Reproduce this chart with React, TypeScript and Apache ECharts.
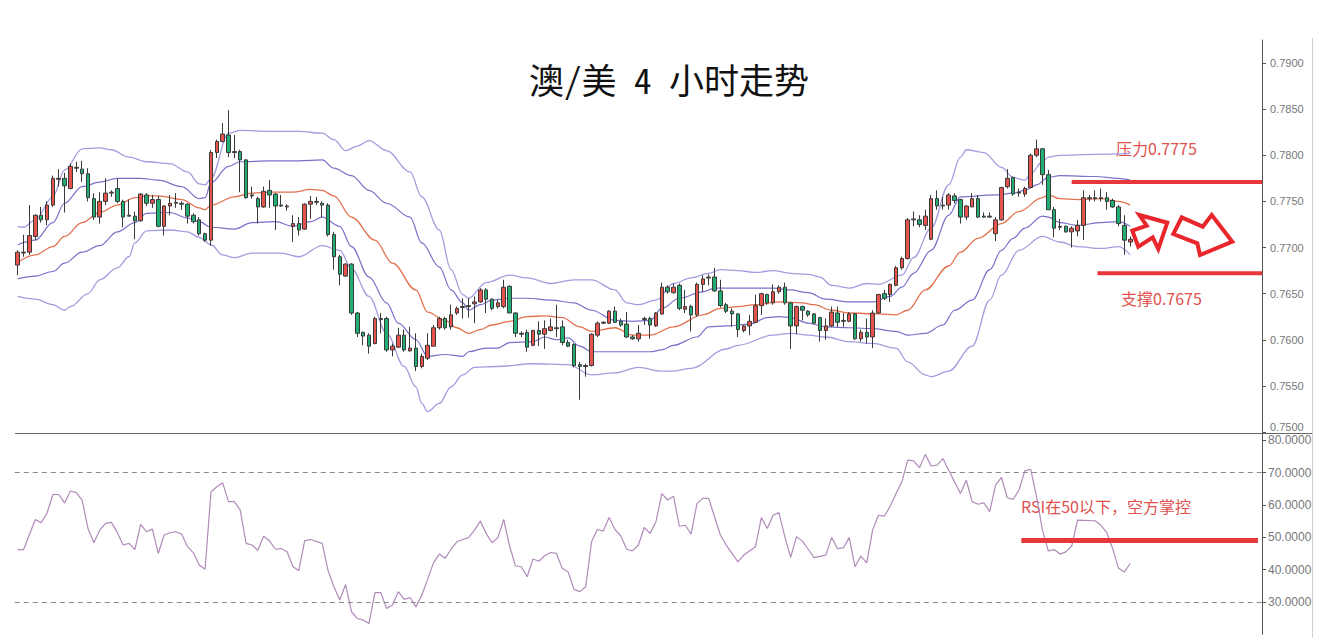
import React, { useEffect, useRef } from "react";
import * as echarts from "echarts";

// ---------- DATA ----------
const SLOT_COUNT = 213; // 191 bars + empty room on the right
const slots: string[] = Array.from({ length: SLOT_COUNT }, (_, i) => `K${i + 1}`);

// AUD/USD 4H bars: [open, close, low, high]
const candles: number[][] = [
  // 0
  [0.7681, 0.7695, 0.767, 0.7697], [0.7694, 0.7695, 0.769, 0.7714], [0.7695, 0.7713, 0.7692, 0.7746], [0.7712, 0.7735, 0.7708, 0.7736],
  [0.7735, 0.773, 0.7727, 0.7744], [0.773, 0.7746, 0.7724, 0.775], [0.7746, 0.7775, 0.7744, 0.7778], [0.7774, 0.7775, 0.7766, 0.7785],
  [0.7775, 0.7767, 0.7738, 0.7781], [0.7764, 0.7788, 0.7763, 0.7791],
  // 10
  [0.7786, 0.7787, 0.7782, 0.7793], [0.7785, 0.778, 0.7771, 0.7794], [0.778, 0.7754, 0.775, 0.7786], [0.7753, 0.7733, 0.773, 0.7759],
  [0.7733, 0.775, 0.7726, 0.776], [0.775, 0.7759, 0.7746, 0.7775], [0.7759, 0.776, 0.7755, 0.7762], [0.7764, 0.775, 0.7748, 0.7775],
  [0.775, 0.7733, 0.7722, 0.7752], [0.7735, 0.7734, 0.7734, 0.7752],
  // 20
  [0.7734, 0.7729, 0.7709, 0.7739], [0.7729, 0.7758, 0.7728, 0.7759], [0.7757, 0.7748, 0.7745, 0.7759], [0.7748, 0.7752, 0.7743, 0.7757],
  [0.7752, 0.7723, 0.7722, 0.7756], [0.7723, 0.7745, 0.7713, 0.7746], [0.7745, 0.7748, 0.7735, 0.7757], [0.7748, 0.7749, 0.7743, 0.7759],
  [0.7748, 0.7747, 0.7741, 0.775], [0.7747, 0.7734, 0.7726, 0.7748],
  // 30
  [0.7735, 0.7728, 0.7726, 0.7737], [0.773, 0.7715, 0.7713, 0.7733], [0.7715, 0.7708, 0.7706, 0.7716], [0.7708, 0.7803, 0.7702, 0.7806],
  [0.7803, 0.7815, 0.7797, 0.7817], [0.7815, 0.7823, 0.7814, 0.7835], [0.7822, 0.7803, 0.7798, 0.7849], [0.7804, 0.7803, 0.7797, 0.7822],
  [0.7804, 0.7795, 0.776, 0.7806], [0.7795, 0.7754, 0.7753, 0.7796],
  // 40
  [0.7757, 0.7756, 0.7753, 0.7766], [0.7753, 0.7744, 0.7726, 0.7755], [0.7744, 0.7761, 0.7743, 0.7766], [0.7762, 0.7757, 0.7743, 0.7773],
  [0.7758, 0.7745, 0.7719, 0.7759], [0.7746, 0.7745, 0.7744, 0.7757], [0.7744, 0.7745, 0.774, 0.7747], [0.7723, 0.7726, 0.7706, 0.7735],
  [0.7726, 0.7719, 0.7713, 0.7733], [0.772, 0.7747, 0.7719, 0.7748],
  // 50
  [0.7747, 0.775, 0.7731, 0.7756], [0.775, 0.7749, 0.7746, 0.7755], [0.7748, 0.7746, 0.7733, 0.775], [0.7746, 0.7714, 0.7712, 0.7748],
  [0.7714, 0.769, 0.7676, 0.7717], [0.769, 0.7671, 0.7659, 0.7692], [0.7669, 0.7682, 0.7668, 0.7683], [0.7682, 0.7629, 0.7627, 0.7683],
  [0.7629, 0.7607, 0.7603, 0.763], [0.7608, 0.7604, 0.7594, 0.7609],
  // 60
  [0.7605, 0.7593, 0.7585, 0.7607], [0.7596, 0.7623, 0.7595, 0.7625], [0.7623, 0.7622, 0.7607, 0.7629], [0.7623, 0.7589, 0.7587, 0.7625],
  [0.7589, 0.7593, 0.7582, 0.7596], [0.7592, 0.7605, 0.7591, 0.7613], [0.7605, 0.7589, 0.7587, 0.7611], [0.7588, 0.7591, 0.7587, 0.7614],
  [0.7591, 0.7571, 0.7566, 0.7607], [0.7571, 0.7582, 0.7569, 0.7585],
  // 70
  [0.758, 0.7594, 0.7578, 0.7607], [0.7593, 0.7613, 0.7593, 0.7616], [0.7613, 0.7623, 0.7611, 0.7625], [0.7623, 0.7613, 0.7611, 0.7625],
  [0.7614, 0.7627, 0.7611, 0.7638], [0.7629, 0.7634, 0.7627, 0.7636], [0.7635, 0.7636, 0.7623, 0.7645], [0.7636, 0.7637, 0.7624, 0.7645],
  [0.7639, 0.7641, 0.7618, 0.7647], [0.7641, 0.7654, 0.764, 0.7656],
  // 80
  [0.7654, 0.7644, 0.7629, 0.7656], [0.7644, 0.7634, 0.7632, 0.7645], [0.7636, 0.764, 0.7634, 0.7643], [0.7636, 0.7657, 0.7634, 0.7665],
  [0.7658, 0.7629, 0.7629, 0.7659], [0.7629, 0.7607, 0.7603, 0.763], [0.7607, 0.7606, 0.7603, 0.7609], [0.7608, 0.7592, 0.7587, 0.7611],
  [0.7594, 0.761, 0.7593, 0.7611], [0.761, 0.7606, 0.7593, 0.762],
  // 90
  [0.7606, 0.7612, 0.759, 0.7621], [0.761, 0.7614, 0.7609, 0.7623], [0.7613, 0.7612, 0.7603, 0.7638], [0.7614, 0.7597, 0.7594, 0.7621],
  [0.7597, 0.7593, 0.7592, 0.76], [0.7595, 0.7572, 0.757, 0.7596], [0.7573, 0.7571, 0.7535, 0.7576], [0.7572, 0.7571, 0.756, 0.7574],
  [0.7572, 0.7606, 0.7571, 0.7607], [0.7605, 0.7618, 0.7603, 0.762],
  // 100
  [0.7618, 0.7619, 0.7617, 0.762], [0.7618, 0.7631, 0.7617, 0.7632], [0.7631, 0.7619, 0.7618, 0.7636], [0.762, 0.7616, 0.7614, 0.7623],
  [0.7617, 0.7603, 0.7602, 0.763], [0.7603, 0.7601, 0.76, 0.7605], [0.7601, 0.7607, 0.7598, 0.7616], [0.7623, 0.7622, 0.7616, 0.7625],
  [0.7623, 0.7616, 0.7601, 0.7625], [0.7615, 0.7629, 0.7614, 0.763],
  // 110
  [0.7628, 0.7657, 0.7627, 0.7662], [0.7657, 0.7652, 0.765, 0.7659], [0.7651, 0.7657, 0.765, 0.7661], [0.7659, 0.7634, 0.7632, 0.7661],
  [0.7633, 0.7636, 0.7629, 0.7654], [0.7636, 0.7627, 0.7609, 0.7638], [0.7627, 0.766, 0.7625, 0.7662], [0.766, 0.7666, 0.7652, 0.767],
  [0.7668, 0.7667, 0.7659, 0.7671], [0.7668, 0.7653, 0.7652, 0.7678],
  // 120
  [0.7653, 0.7637, 0.7635, 0.7665], [0.7638, 0.7631, 0.7629, 0.764], [0.7631, 0.7628, 0.7614, 0.7634], [0.7628, 0.7611, 0.7603, 0.7629],
  [0.761, 0.7615, 0.7608, 0.7616], [0.7615, 0.762, 0.7605, 0.7627], [0.7619, 0.7637, 0.7618, 0.7649], [0.7637, 0.765, 0.7627, 0.7651],
  [0.7649, 0.764, 0.7638, 0.765], [0.764, 0.7652, 0.7638, 0.766],
  // 130
  [0.7652, 0.7657, 0.765, 0.7659], [0.7657, 0.764, 0.7638, 0.7662], [0.764, 0.7615, 0.759, 0.7641], [0.7615, 0.7636, 0.7606, 0.7637],
  [0.7636, 0.7632, 0.7621, 0.7637], [0.7631, 0.7627, 0.7625, 0.7632], [0.7628, 0.7618, 0.7617, 0.7629], [0.7624, 0.761, 0.7598, 0.7625],
  [0.761, 0.7615, 0.76, 0.7623], [0.7615, 0.763, 0.7614, 0.7636],
  // 140
  [0.7629, 0.7619, 0.7614, 0.7636], [0.7621, 0.762, 0.7614, 0.7629], [0.762, 0.7628, 0.7619, 0.763], [0.7628, 0.7601, 0.76, 0.7629],
  [0.7601, 0.7608, 0.7598, 0.7611], [0.7608, 0.7603, 0.7596, 0.7623], [0.7603, 0.7629, 0.7591, 0.7632], [0.7629, 0.7649, 0.7628, 0.765],
  [0.765, 0.7645, 0.7643, 0.7654], [0.7649, 0.766, 0.7641, 0.7661],
  // 150
  [0.7659, 0.7678, 0.7658, 0.768], [0.7678, 0.7688, 0.7676, 0.769], [0.7688, 0.773, 0.7687, 0.7732], [0.773, 0.7731, 0.7723, 0.7739],
  [0.773, 0.7725, 0.7722, 0.7735], [0.7724, 0.7734, 0.7719, 0.7741], [0.7709, 0.7753, 0.7708, 0.7757], [0.7753, 0.7745, 0.7741, 0.7762],
  [0.7746, 0.7745, 0.7741, 0.7755], [0.7746, 0.7757, 0.7741, 0.7759],
  // 160
  [0.7756, 0.7751, 0.7748, 0.7759], [0.7752, 0.7733, 0.7726, 0.7753], [0.7733, 0.7745, 0.773, 0.7746], [0.7744, 0.7753, 0.7744, 0.7759],
  [0.7753, 0.7733, 0.7732, 0.7757], [0.7734, 0.7733, 0.7732, 0.7738], [0.7733, 0.7734, 0.7732, 0.7738], [0.7715, 0.773, 0.7707, 0.7733],
  [0.773, 0.7765, 0.7729, 0.7766], [0.7766, 0.7775, 0.7764, 0.7785],
  // 170
  [0.7776, 0.7758, 0.7756, 0.7777], [0.7759, 0.776, 0.7755, 0.7764], [0.7758, 0.7764, 0.7755, 0.7766], [0.7765, 0.78, 0.7764, 0.7802],
  [0.78, 0.7807, 0.7798, 0.7817], [0.7807, 0.7779, 0.7768, 0.7808], [0.7779, 0.7741, 0.7741, 0.7784], [0.7741, 0.7721, 0.7711, 0.7744],
  [0.7723, 0.7722, 0.7719, 0.7731], [0.7723, 0.7717, 0.7716, 0.7724],
  // 180
  [0.7717, 0.7721, 0.77, 0.7723], [0.7718, 0.7724, 0.7712, 0.773], [0.7724, 0.7754, 0.7708, 0.7762], [0.7753, 0.7754, 0.775, 0.7757],
  [0.7754, 0.7753, 0.775, 0.7762], [0.7753, 0.7754, 0.775, 0.7764], [0.7754, 0.775, 0.7741, 0.776], [0.7751, 0.7744, 0.7743, 0.7753],
  [0.7744, 0.7726, 0.7723, 0.7746], [0.7724, 0.7708, 0.7692, 0.7735],
  // 190
  [0.7706, 0.7709, 0.7701, 0.7712],
];

// Bollinger band lines: [bar index, price]
const bbUpperOuter: number[][] = [
  [0, 0.7723], [1, 0.7722], [3, 0.773], [6, 0.7755], [8, 0.7784], [11, 0.7807], [14, 0.7808], [16, 0.7806], [19, 0.7798],
  [22, 0.7793], [26, 0.7791], [29, 0.7782], [31, 0.7769], [32, 0.7768], [33, 0.7775], [36, 0.7824], [38, 0.7827], [43, 0.7826],
  [48, 0.7826], [52, 0.7824], [54, 0.7817], [56, 0.7805], [58, 0.781], [60, 0.7816], [63, 0.7805], [67, 0.7782], [69, 0.7755],
  [72, 0.7719], [74, 0.7676], [76, 0.7649], [77, 0.7645], [80, 0.7662], [84, 0.767], [87, 0.7667], [91, 0.7661], [95, 0.7665],
  [98, 0.7665], [102, 0.7654], [104, 0.764], [106, 0.7638], [109, 0.7643], [112, 0.7661], [115, 0.7667], [118, 0.7672],
  [120, 0.7676], [123, 0.7675], [126, 0.7673], [129, 0.7675], [132, 0.7672], [135, 0.7671], [137, 0.7668], [139, 0.7659],
  [142, 0.7656], [145, 0.7661], [147, 0.766], [151, 0.767], [153, 0.7689], [156, 0.7721], [159, 0.7768], [161, 0.7798],
  [162, 0.7806], [165, 0.7803], [168, 0.7787], [170, 0.7776], [172, 0.7773], [173, 0.778], [175, 0.7793], [176, 0.7798],
  [178, 0.78], [184, 0.7801], [190, 0.7802],
];
const bbUpperInner: number[][] = [
  [0, 0.7703], [3, 0.7708], [6, 0.7727], [8, 0.7748], [11, 0.7766], [14, 0.7771], [17, 0.7775], [21, 0.7775], [24, 0.7773],
  [28, 0.7766], [31, 0.7753], [32, 0.7754], [33, 0.777], [36, 0.7788], [38, 0.7793], [43, 0.7794], [48, 0.7794], [52, 0.7795],
  [54, 0.7786], [57, 0.7778], [60, 0.7762], [63, 0.7748], [67, 0.7733], [69, 0.7705], [72, 0.7679], [74, 0.7654], [76, 0.764],
  [77, 0.7632], [79, 0.7638], [81, 0.7643], [84, 0.7645], [87, 0.7645], [91, 0.7643], [95, 0.764], [98, 0.7632], [102, 0.7621],
  [105, 0.762], [108, 0.7621], [110, 0.7634], [113, 0.7645], [117, 0.7652], [119, 0.7656], [123, 0.7656], [129, 0.7656],
  [132, 0.7654], [135, 0.7651], [138, 0.7644], [142, 0.7641], [146, 0.7641], [149, 0.7647], [151, 0.7657], [153, 0.7672],
  [156, 0.7697], [159, 0.7735], [161, 0.7755], [167, 0.7757], [170, 0.7759], [172, 0.7762], [174, 0.7768], [176, 0.7776],
  [178, 0.7778], [184, 0.7777], [188, 0.7775], [190, 0.7773],
];
const bbMiddle: number[][] = [
  [0, 0.7684], [3, 0.7692], [6, 0.7701], [8, 0.7712], [11, 0.7727], [14, 0.7738], [17, 0.7746], [20, 0.7754], [22, 0.7756],
  [24, 0.7756], [28, 0.7752], [31, 0.7743], [32, 0.7741], [33, 0.7746], [37, 0.7755], [40, 0.7759], [43, 0.776], [47, 0.776],
  [50, 0.7763], [52, 0.7762], [54, 0.7756], [57, 0.7733], [61, 0.7708], [64, 0.7683], [68, 0.7654], [70, 0.763], [73, 0.7621],
  [75, 0.7613], [77, 0.7607], [79, 0.7611], [81, 0.7616], [84, 0.762], [87, 0.7625], [90, 0.7626], [93, 0.7624], [96, 0.7614],
  [98, 0.7609], [102, 0.7613], [105, 0.7605], [108, 0.7605], [112, 0.7614], [117, 0.7627], [120, 0.7634], [123, 0.7636],
  [126, 0.7638], [130, 0.7641], [134, 0.764], [136, 0.7638], [139, 0.7632], [142, 0.7629], [147, 0.7628], [150, 0.7627],
  [152, 0.7632], [155, 0.7654], [159, 0.768], [161, 0.7695], [164, 0.771], [168, 0.7726], [171, 0.7739], [175, 0.7754],
  [176, 0.7757], [178, 0.7753], [181, 0.7752], [185, 0.7753], [188, 0.775], [190, 0.7746],
];
const bbLowerInner: number[][] = [
  [0, 0.7666], [3, 0.7669], [6, 0.7674], [8, 0.7683], [11, 0.7695], [14, 0.7702], [17, 0.7717], [20, 0.7727], [22, 0.7737],
  [26, 0.7738], [29, 0.7732], [31, 0.7728], [33, 0.7722], [37, 0.772], [40, 0.7727], [44, 0.7728], [47, 0.7723], [50, 0.7728],
  [52, 0.7733], [55, 0.7723], [57, 0.7701], [60, 0.7668], [63, 0.764], [65, 0.7618], [68, 0.76], [70, 0.7582], [73, 0.7584],
  [76, 0.7582], [77, 0.7587], [80, 0.7591], [82, 0.7591], [84, 0.7597], [88, 0.7598], [90, 0.7603], [92, 0.76], [94, 0.7602],
  [96, 0.7593], [98, 0.7587], [100, 0.7587], [105, 0.7587], [108, 0.7587], [110, 0.7589], [112, 0.7594], [116, 0.7603],
  [118, 0.7614], [121, 0.7615], [125, 0.7617], [128, 0.7624], [130, 0.7625], [132, 0.7624], [135, 0.7618], [138, 0.7614],
  [142, 0.7613], [146, 0.7612], [150, 0.7609], [152, 0.7605], [155, 0.7607], [158, 0.7616], [160, 0.7632], [163, 0.7643],
  [166, 0.7676], [168, 0.7697], [170, 0.771], [172, 0.7721], [175, 0.7734], [176, 0.7733], [178, 0.7727], [181, 0.7724],
  [185, 0.7727], [188, 0.7728], [190, 0.7723],
];
const bbLowerOuter: number[][] = [
  [0, 0.7647], [3, 0.7644], [6, 0.7638], [8, 0.7632], [9, 0.7636], [12, 0.765], [14, 0.7665], [17, 0.7678], [19, 0.769],
  [20, 0.7705], [22, 0.7718], [26, 0.7719], [29, 0.7717], [31, 0.7711], [33, 0.7703], [35, 0.7692], [37, 0.7689], [40, 0.7694],
  [45, 0.7694], [48, 0.769], [52, 0.7702], [55, 0.7697], [57, 0.7677], [60, 0.7647], [63, 0.7607], [66, 0.7571], [68, 0.7549],
  [69, 0.7531], [70, 0.7522], [72, 0.7531], [74, 0.7549], [76, 0.7562], [78, 0.757], [82, 0.7571], [88, 0.7574], [94, 0.7573],
  [98, 0.7562], [102, 0.7564], [106, 0.757], [110, 0.7566], [112, 0.7566], [115, 0.7569], [121, 0.759], [123, 0.7594],
  [129, 0.7605], [132, 0.7607], [135, 0.7605], [138, 0.7603], [142, 0.7598], [146, 0.7596], [150, 0.7591], [152, 0.7576],
  [155, 0.7562], [156, 0.756], [159, 0.7566], [163, 0.7593], [166, 0.7643], [168, 0.767], [171, 0.7697], [175, 0.7712],
  [178, 0.7706], [181, 0.7701], [185, 0.7699], [188, 0.7701], [190, 0.7692],
];

// RSI line vertices: [bar index, value]
const rsi: number[][] = [
  [0, 46.2], [1, 46.2], [3, 55.5], [4, 54.5], [5, 57.4], [6, 63.2], [7, 63.2], [8, 60.6], [9, 64.3], [10, 63.8], [11, 61.5],
  [12, 52.7], [13, 48.3], [14, 52.2], [15, 54.3], [16, 54.6], [17, 51.5], [18, 47.6], [19, 48.1], [20, 46.2], [21, 54.0],
  [22, 51.7], [23, 52.5], [24, 45.0], [25, 50.7], [26, 51.4], [27, 51.7], [28, 51.0], [29, 47.1], [30, 45.2], [31, 41.4],
  [32, 40.1], [33, 64.0], [34, 65.6], [35, 66.8], [36, 61.0], [37, 61.0], [38, 58.4], [39, 48.1], [40, 47.6], [41, 46.0],
  [42, 50.3], [43, 48.9], [44, 46.3], [45, 46.5], [46, 45.5], [47, 40.9], [48, 39.7], [49, 48.9], [50, 49.3], [52, 48.1],
  [53, 39.7], [54, 34.7], [55, 30.6], [56, 35.4], [57, 27.0], [58, 24.9], [59, 24.4], [60, 23.4], [61, 32.9], [62, 32.9],
  [63, 28.0], [64, 29.1], [65, 33.2], [66, 30.8], [67, 31.4], [68, 28.5], [69, 32.1], [70, 37.0], [71, 42.1], [72, 44.8],
  [73, 43.5], [74, 46.3], [75, 48.6], [76, 49.3], [77, 49.9], [78, 52.2], [79, 55.0], [80, 51.2], [81, 48.3], [82, 49.9],
  [83, 55.5], [84, 47.3], [85, 41.2], [86, 40.9], [87, 37.8], [88, 43.3], [89, 42.6], [90, 44.3], [91, 45.3], [92, 45.0],
  [93, 40.4], [94, 39.3], [95, 33.9], [96, 33.2], [97, 34.7], [98, 48.6], [99, 52.4], [100, 51.9], [101, 56.1], [102, 52.4],
  [103, 50.4], [104, 46.3], [105, 45.8], [106, 47.6], [107, 53.0], [108, 51.2], [109, 54.8], [110, 63.5], [111, 61.5],
  [112, 62.7], [113, 53.4], [114, 53.7], [115, 51.0], [116, 60.4], [117, 62.0], [118, 62.0], [120, 50.7], [121, 47.6],
  [123, 42.4], [124, 44.5], [126, 47.1], [127, 56.1], [128, 52.7], [129, 56.8], [130, 57.6], [131, 50.2], [132, 43.8],
  [133, 50.2], [134, 48.8], [135, 46.3], [136, 43.7], [138, 44.5], [139, 49.9], [140, 46.5], [141, 46.7], [142, 49.9],
  [143, 40.9], [144, 44.2], [145, 42.1], [146, 52.2], [147, 56.8], [148, 56.5], [149, 59.6], [150, 63.5], [151, 67.1],
  [152, 73.8], [153, 73.6], [154, 71.5], [155, 75.6], [156, 72.0], [157, 72.3], [158, 74.3], [159, 70.7], [161, 63.5],
  [162, 67.6], [163, 61.0], [164, 60.2], [165, 60.6], [166, 57.9], [167, 66.1], [168, 68.5], [169, 62.2], [170, 61.7],
  [171, 64.6], [172, 70.5], [173, 71.0], [174, 62.5], [175, 52.2], [176, 45.8], [177, 46.2], [178, 44.8], [179, 45.5],
  [180, 47.3], [181, 55.3], [184, 55.1], [185, 53.7], [186, 51.4], [187, 46.5], [188, 40.4], [189, 39.3], [190, 41.9],
];

const rsiLevels = [70, 30];
const resistance = { from: 180, price: 0.7771, label: "压力0.7775" };
const support = { from: 184.4, price: 0.7672, label: "支撑0.7675" };
const rsiMark = { from: 171.4, to: 211.8, value: 49, label: "RSI在50以下，空方掌控" };
const titleText = "澳/美 4 小时走势";

// ---------- CHART ----------
const RED = "#e8373b";
const NOTE = "#e0514e";
const CJK = '"Noto Sans CJK SC", "Microsoft YaHei", sans-serif';
const AXIS_FONT = '"Liberation Sans", Arial, sans-serif';

export default function App() {
  const ref = useRef<HTMLDivElement>(null);

  useEffect(() => {
    if (!ref.current) return;
    const chart = echarts.init(ref.current, undefined, { renderer: "svg" });
    const end = SLOT_COUNT - 0.5;

    const bandLine = (name: string, data: number[][], color: string, width: number) => ({
      name,
      type: "line",
      xAxisIndex: 1,
      yAxisIndex: 0,
      data,
      symbol: "none",
      smooth: 0.35,
      smoothMonotone: "x",
      z: 2,
      lineStyle: { color, width },
      silent: true,
    });

    chart.setOption({
      animation: false,
      backgroundColor: "#ffffff",
      grid: [
        { left: 14.8, top: 40, width: 1247.2, height: 392 },
        { left: 14.8, top: 433, width: 1247.2, height: 201.4 },
      ],
      xAxis: [
        { type: "category", gridIndex: 0, data: slots, boundaryGap: true, show: false },
        { type: "value", gridIndex: 0, min: -0.5, max: end, show: false },
        { type: "value", gridIndex: 1, min: -0.5, max: end, show: false },
      ],
      yAxis: [
        {
          type: "value",
          gridIndex: 0,
          position: "right",
          min: 0.75,
          max: 0.7925,
          interval: 0.005,
          axisLine: { show: true, onZero: false, lineStyle: { color: "#555", width: 1 } },
          axisTick: { show: true, length: 4, lineStyle: { color: "#555" } },
          axisLabel: {
            formatter: (v: number) => (Math.abs(v - 0.75) < 1e-9 ? `{low|${v.toFixed(4)}}` : v.toFixed(4)),
            rich: { low: { padding: [0, 0, 10, 0], color: "#777", fontSize: 11, fontFamily: AXIS_FONT } },
            color: "#777",
            fontSize: 11,
            margin: 8,
            fontFamily: AXIS_FONT,
            showMaxLabel: false,
          },
          splitLine: { show: false },
        },
        {
          type: "value",
          gridIndex: 1,
          position: "right",
          min: 20,
          max: 82.2,
          interval: 10,
          axisLine: { show: true, onZero: false, lineStyle: { color: "#555", width: 1 } },
          axisTick: { show: true, length: 4, lineStyle: { color: "#555" } },
          axisLabel: {
            formatter: (v: number) => v.toFixed(4),
            color: "#777",
            fontSize: 12,
            margin: 6,
            fontFamily: AXIS_FONT,
            showMaxLabel: false,
            showMinLabel: false,
          },
          splitLine: { show: false },
        },
      ],
      series: [
        bandLine("BB upper 2", bbUpperOuter, "#a39ddf", 1.3),
        bandLine("BB upper 1", bbUpperInner, "#7772c9", 1.2),
        bandLine("BB middle", bbMiddle, "#e3714f", 1.3),
        bandLine("BB lower 1", bbLowerInner, "#7772c9", 1.2),
        bandLine("BB lower 2", bbLowerOuter, "#a39ddf", 1.3),
        {
          name: "AUDUSD",
          type: "candlestick",
          xAxisIndex: 0,
          yAxisIndex: 0,
          data: candles,
          barWidth: 4,
          z: 3,
          itemStyle: {
            color: "#e6534c",
            color0: "#22ad72",
            borderColor: "#3a3a3a",
            borderColor0: "#3a3a3a",
            borderColorDoji: "#3a3a3a",
            borderWidth: 1,
          },
        },
        {
          name: "resistance",
          type: "line",
          xAxisIndex: 1,
          yAxisIndex: 0,
          data: [[resistance.from, resistance.price], [end, resistance.price]],
          symbol: "none",
          z: 4,
          lineStyle: { color: RED, width: 4 },
        },
        {
          name: "support",
          type: "line",
          xAxisIndex: 1,
          yAxisIndex: 0,
          data: [[support.from, support.price], [end, support.price]],
          symbol: "none",
          z: 4,
          lineStyle: { color: RED, width: 4 },
        },
        {
          name: "RSI",
          type: "line",
          xAxisIndex: 2,
          yAxisIndex: 1,
          data: rsi,
          symbol: "none",
          z: 3,
          lineStyle: { color: "#b08ab9", width: 1.2 },
          markLine: {
            silent: true,
            symbol: "none",
            label: { show: false },
            lineStyle: { color: "#8a8a8a", type: [5, 4], width: 1 },
            data: rsiLevels.map((v) => ({ yAxis: v })),
          },
        },
        {
          name: "RSI 50",
          type: "line",
          xAxisIndex: 2,
          yAxisIndex: 1,
          data: [[rsiMark.from, rsiMark.value], [rsiMark.to, rsiMark.value]],
          symbol: "none",
          z: 4,
          lineStyle: { color: RED, width: 5 },
        },
      ],
      graphic: [
        {
          type: "text",
          x: 669,
          y: 78,
          style: {
            text: titleText,
            font: 'normal 35px "Noto Sans Mono CJK SC", "DejaVu Sans Mono", "Noto Sans CJK SC", monospace',
            fill: "#111",
            textAlign: "center",
            textVerticalAlign: "middle",
            align: "center",
            verticalAlign: "middle",
          },
        },
        {
          type: "line",
          shape: { x1: 15, y1: 433.5, x2: 1312, y2: 433.5 },
          style: { stroke: "#666", lineWidth: 1 },
        },
        {
          type: "line",
          shape: { x1: 1312.5, y1: 38, x2: 1312.5, y2: 638 },
          style: { stroke: "#cfcfcf", lineWidth: 1 },
        },
        {
          type: "text",
          x: 1116,
          y: 148,
          style: {
            text: resistance.label,
            font: `normal 16px ${CJK}`,
            fill: NOTE,
            textVerticalAlign: "middle",
            verticalAlign: "middle",
          },
        },
        {
          type: "text",
          x: 1121,
          y: 298,
          style: {
            text: support.label,
            font: `normal 16px ${CJK}`,
            fill: NOTE,
            textVerticalAlign: "middle",
            verticalAlign: "middle",
          },
        },
        {
          type: "text",
          x: 1021,
          y: 506,
          style: {
            text: rsiMark.label,
            font: `normal 16px ${CJK}`,
            fill: NOTE,
            textVerticalAlign: "middle",
            verticalAlign: "middle",
          },
        },
        {
          type: "polygon",
          z: 10,
          shape: {
            points: [
              [1132.3, 230.7], [1146.7, 225.7], [1139.3, 215], [1167.3, 222.7],
              [1158.3, 249], [1152.7, 237.3], [1138.3, 246.7],
            ],
          },
          style: { fill: "#ffffff", stroke: "#e8262b", lineWidth: 4, lineJoin: "miter" },
        },
        {
          type: "polygon",
          z: 10,
          shape: {
            points: [
              [1181.7, 217.3], [1202.7, 226.7], [1211.7, 215], [1232.3, 241.7],
              [1200, 255], [1197.3, 243.3], [1173.3, 234],
            ],
          },
          style: { fill: "#ffffff", stroke: "#e8262b", lineWidth: 4, lineJoin: "miter" },
        },
      ],
    });

    return () => chart.dispose();
  }, []);

  return (
    <div
      ref={ref}
      style={{ position: "absolute", left: 0, top: 0, width: 1323, height: 638, background: "#fff" }}
    />
  );
}
